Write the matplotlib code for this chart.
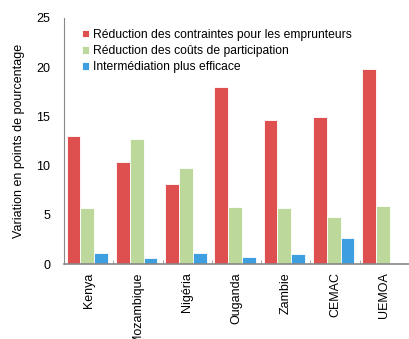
import numpy as np
import matplotlib
matplotlib.use("Agg")
import matplotlib.pyplot as plt

plt.rcParams['font.family'] = ['Liberation Sans', 'DejaVu Sans']

countries = ['Kenya', 'Mozambique', 'Nigéria', 'Ouganda', 'Zambie', 'CEMAC', 'UEMOA']
contraintes = [13.0, 10.4, 8.1, 18.0, 14.6, 14.9, 19.8]
couts = [5.7, 12.7, 9.8, 5.8, 5.7, 4.8, 5.9]
intermediation = [1.1, 0.6, 1.1, 0.7, 1.0, 2.7, 0.0]

series_names = ['Réduction des contraintes pour les emprunteurs',
                'Réduction des coûts de participation',
                'Intermédiation plus efficace']
colors = ['#DE4F4F', '#BDD89B', '#3D9FE0']

fig = plt.figure(figsize=(4.09, 3.39), dpi=100)
ax = fig.add_axes([0.157, 0.221, 0.843, 0.726])

x = np.arange(len(countries))
w = 0.28
for i, (vals, name, c) in enumerate(zip([contraintes, couts, intermediation], series_names, colors)):
    ax.bar(x + (i - 1) * w - 0.03, vals, width=w, color=c, edgecolor='white',
           linewidth=0.6, label=name)

ax.set_xlim(-0.5, len(countries) - 0.5)
ax.set_ylim(0, 25)
ax.set_yticks([0, 5, 10, 15, 20, 25])
ax.tick_params(axis='y', length=0, labelsize=9, pad=10)
ax.set_xticks(x)
ax.set_xticklabels(countries, rotation=90, fontsize=9)
ax.tick_params(axis='x', length=0, pad=6)
ax.set_xticks(np.arange(len(countries)) + 0.5, minor=True)
ax.tick_params(axis='x', which='minor', direction='in', length=3, color='#999999')

for s in ['top', 'right']:
    ax.spines[s].set_visible(False)
ax.spines['left'].set_color('#888888')
ax.spines['bottom'].set_color('#888888')
ax.spines['bottom'].set_linewidth(1.2)

ax.set_ylabel('Variation en points de pourcentage', fontsize=9, labelpad=8)

ax.legend(loc='upper left', bbox_to_anchor=(0.03, 0.985), frameon=False, fontsize=8.7,
          handlelength=0.6, handleheight=0.6, handletextpad=0.3, labelspacing=0.35,
          borderaxespad=0.2)

fig.savefig('out.png', dpi=100)
